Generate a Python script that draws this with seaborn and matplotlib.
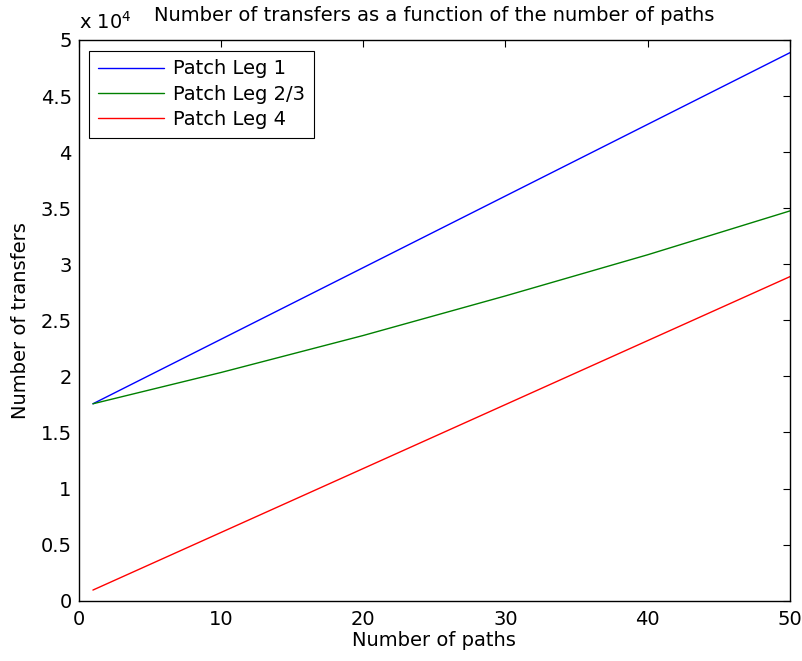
import matplotlib
matplotlib.use("Agg")
import matplotlib.pyplot as plt
import seaborn as sns
import pandas as pd
from matplotlib.ticker import FuncFormatter, MultipleLocator

# Data
x_leg1 = [1, 50]
y_leg1 = [17560, 48870]

x_leg23 = [1, 10, 20, 30, 40, 50]
y_leg23 = [17560, 20350, 23650, 27180, 30850, 34760]

x_leg4 = [1, 50]
y_leg4 = [950, 28900]

series_names = ["Patch Leg 1", "Patch Leg 2/3", "Patch Leg 4"]
series_colors = ["#0000ff", "#008000", "#ff0000"]

sns.set_style("white")
plt.rcParams["font.family"] = ["DejaVu Sans"]
plt.rcParams["mathtext.fontset"] = "dejavusans"
plt.rcParams["text.color"] = "black"
plt.rcParams["axes.labelcolor"] = "black"

FS = 14

fig = plt.figure(figsize=(8.03, 6.61), dpi=100)
ax = fig.add_axes([0.098, 0.0912, 0.8858, 0.8483])

for xs, ys, name, col in zip([x_leg1, x_leg23, x_leg4], [y_leg1, y_leg23, y_leg4],
                             series_names, series_colors):
    df = pd.DataFrame({"x": xs, "y": ys})
    sns.lineplot(data=df, x="x", y="y", ax=ax, color=col, linewidth=1.0, label=name)

ax.set_xlim(0, 50)
ax.set_ylim(0, 50000)
ax.xaxis.set_major_locator(MultipleLocator(10))
ax.yaxis.set_major_locator(MultipleLocator(5000))
ax.yaxis.set_major_formatter(FuncFormatter(lambda v, p: f"{v/1e4:g}"))

ax.tick_params(direction="in", length=5, width=0.8, top=True, right=True,
               labelsize=FS, color="black", labelcolor="black")
ax.tick_params(axis="x", pad=7)
ax.tick_params(axis="y", pad=5)
for s in ax.spines.values():
    s.set_visible(True)
    s.set_color("black")
    s.set_linewidth(1.0)

ax.set_xlabel("Number of paths", fontsize=FS, labelpad=1, color="black")
ax.set_ylabel("Number of transfers", fontsize=FS, labelpad=8, color="black")
ax.set_title("Number of transfers as a function of the number of paths",
             fontsize=FS, pad=14, color="black")
ax.text(0.0, 1.012, r"x 10$^{4}$", transform=ax.transAxes, fontsize=FS,
        ha="left", va="bottom", color="black")

leg = ax.legend(loc="upper left", fontsize=FS, frameon=True, fancybox=False,
                edgecolor="black", framealpha=1, handlelength=3.4,
                borderaxespad=0.55, borderpad=0.45, labelspacing=0.33, handletextpad=0.45)
leg.get_frame().set_linewidth(0.8)
for t in leg.get_texts():
    t.set_color("black")

fig.savefig("out.png", dpi=100)
